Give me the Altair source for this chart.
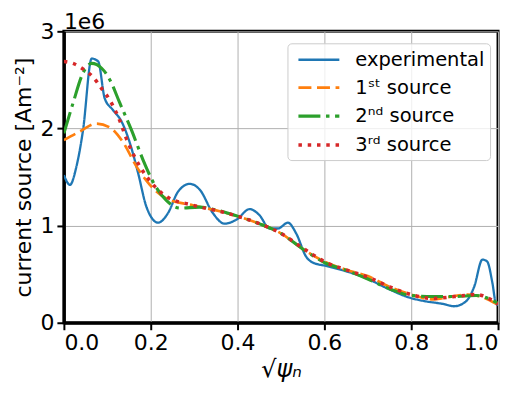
import altair as alt
import pandas as pd

exp_x = [0.0, 0.014, 0.029, 0.044, 0.064, 0.079, 0.094, 0.113, 0.133, 0.152, 0.171, 0.19, 0.217, 0.24,
         0.263, 0.29, 0.313, 0.343, 0.37, 0.397, 0.428, 0.45, 0.474, 0.493, 0.516, 0.535, 0.558, 0.573,
         0.604, 0.65, 0.696, 0.742, 0.795, 0.834, 0.872, 0.899, 0.926, 0.945, 0.964, 0.975, 0.987, 0.995, 1.0]
exp_y = [1.52, 1.42, 1.61, 1.98, 2.72, 2.69, 2.31, 2.19, 2.07, 1.85, 1.54, 1.195, 1.03, 1.13,
         1.35, 1.43, 1.37, 1.13, 1.02, 1.06, 1.17, 1.11, 0.97, 0.97, 1.03, 0.92, 0.68, 0.62,
         0.585, 0.53, 0.46, 0.36, 0.26, 0.22, 0.195, 0.17, 0.22, 0.37, 0.65, 0.63, 0.41, 0.2, 0.18]

s1_x = [0.0, 0.037, 0.075, 0.106, 0.136, 0.167, 0.198, 0.236, 0.297, 0.374, 0.45, 0.5, 0.55, 0.6,
        0.65, 0.7, 0.75, 0.8, 0.85, 0.88, 0.93, 0.96, 1.0]
s1_y = [1.88, 1.97, 2.05, 2.01, 1.86, 1.61, 1.42, 1.28, 1.21, 1.13, 1.02, 0.92, 0.76, 0.63,
        0.545, 0.48, 0.37, 0.29, 0.24, 0.26, 0.29, 0.27, 0.185]

s2_x = [0.0, 0.021, 0.044, 0.064, 0.087, 0.106, 0.129, 0.156, 0.182, 0.209, 0.236, 0.267, 0.313,
        0.351, 0.405, 0.45, 0.5, 0.55, 0.6, 0.65, 0.7, 0.75, 0.8, 0.85, 0.9, 0.95, 1.0]
s2_y = [1.95, 2.26, 2.57, 2.67, 2.62, 2.50, 2.26, 1.98, 1.68, 1.42, 1.26, 1.18, 1.19,
        1.16, 1.09, 1.02, 0.92, 0.76, 0.62, 0.54, 0.45, 0.35, 0.28, 0.27, 0.27, 0.28, 0.20]

s3_x = [0.0, 0.021, 0.048, 0.067, 0.087, 0.106, 0.125, 0.148, 0.175, 0.202, 0.236, 0.297, 0.374,
        0.45, 0.5, 0.55, 0.6, 0.65, 0.7, 0.75, 0.8, 0.85, 0.9, 0.95, 1.0]
s3_y = [2.69, 2.67, 2.60, 2.53, 2.41, 2.29, 2.12, 1.85, 1.61, 1.44, 1.30, 1.21, 1.13,
        1.02, 0.92, 0.77, 0.63, 0.545, 0.47, 0.37, 0.29, 0.25, 0.27, 0.29, 0.19]

names = ["experimental", "1ˢᵗ source", "2ⁿᵈ source", "3ʳᵈ source"]
colors = ["#1f77b4", "#ff7f0e", "#2ca02c", "#d62728"]
dashes = [[1, 0], [13, 5.6], [22, 5.6, 3.5, 5.6], [3.5, 5.8]]
widths = [2.3, 3.5, 3.5, 3.5]

rows = []
for i, (xs, ys) in enumerate([(exp_x, exp_y), (s1_x, s1_y), (s2_x, s2_y), (s3_x, s3_y)]):
    for x, y in zip(xs, ys):
        rows.append({"x": x, "y": y, "series": names[i], "k": i})
df = pd.DataFrame(rows)

FONT = "DejaVu Sans"

chart = alt.Chart(df, title=alt.Title("1e6", anchor="start", fontSize=22, font=FONT,
                                      fontWeight="normal", color="black", offset=-14, frame="group")).mark_line(
    interpolate="monotone", clip=True
).encode(
    x=alt.X("x:Q", scale=alt.Scale(domain=[0, 1], nice=False),
            axis=alt.Axis(values=[0, 0.2, 0.4, 0.6, 0.8, 1.0], format=".1f",
                          title="√ψₙ", titleFontStyle="italic", titleFontSize=24, titlePadding=4)),
    y=alt.Y("y:Q", scale=alt.Scale(domain=[0, 3], nice=False),
            axis=alt.Axis(values=[0, 1, 2, 3], format="d",
                          title="current source [Am⁻²]", titlePadding=4)),
    color=alt.Color("series:N", scale=alt.Scale(domain=names, range=colors),
                    legend=alt.Legend(title=None, orient="none", legendX=224, legendY=12,
                                      symbolType="M-2.05,0H2.05", symbolSize=400, symbolStrokeWidth=3.5,
                                      symbolOffset=14.5,
                                      labelFontSize=19.5, labelFont=FONT, labelColor="black",
                                      rowPadding=7, labelOffset=24.5, padding=5,
                                      fillColor="rgba(255,255,255,0.8)", strokeColor="#cccccc",
                                      cornerRadius=4)),
    strokeDash=alt.StrokeDash("series:N", scale=alt.Scale(domain=names, range=dashes)),
    strokeWidth=alt.StrokeWidth("series:N", scale=alt.Scale(domain=names, range=widths), legend=None),
    order=alt.Order("x:Q"),
).properties(
    width=435, height=292,
    autosize=alt.AutoSizeParams(type="none"),
    padding={"left": 56, "top": 23, "right": 20, "bottom": 60},
).configure_axis(
    labelFontSize=22, titleFontSize=22, labelFont=FONT, titleFont=FONT,
    labelColor="black", titleColor="black", titleFontWeight="normal",
    domainColor="black", domainWidth=3, tickColor="black", tickWidth=2, tickSize=7,
    gridColor="#b0b0b0", gridWidth=1, labelPadding=3,
).configure_view(
    stroke="black", strokeWidth=3
)

chart.save("out.html", embed_options={"renderer": "svg", "actions": False})
